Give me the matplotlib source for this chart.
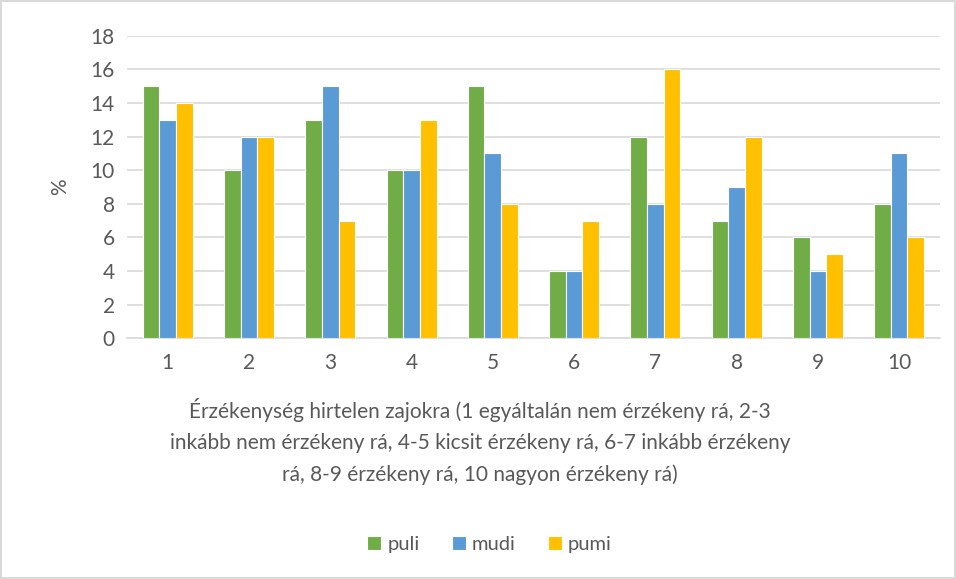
import matplotlib
matplotlib.use('Agg')
import matplotlib.pyplot as plt
import numpy as np

categories = ['1', '2', '3', '4', '5', '6', '7', '8', '9', '10']
puli = [15, 10, 13, 10, 15, 4, 12, 7, 6, 8]
mudi = [13, 12, 15, 10, 11, 4, 8, 9, 4, 11]
pumi = [14, 12, 7, 13, 8, 7, 16, 12, 5, 6]

colors = {'puli': '#70ad47', 'mudi': '#5b9bd5', 'pumi': '#ffc000'}
text_color = '#595959'

plt.rcParams['font.family'] = ['Lato', 'DejaVu Sans']

fig = plt.figure(figsize=(9.56, 5.79), dpi=100)
fig.patch.set_edgecolor('#d9d9d9')
fig.patch.set_linewidth(1.5)
ax = fig.add_axes([0.133, 0.416, 0.85, 0.522])

x = np.arange(len(categories))
w = 0.205
for i, (name, vals) in enumerate([('puli', puli), ('mudi', mudi), ('pumi', pumi)]):
    ax.bar(x + (i - 1) * w, vals, width=w, color=colors[name], edgecolor='white',
           linewidth=0.8, label=name, zorder=3)

ax.set_xlim(-0.5, len(categories) - 0.5)
ax.set_ylim(0, 18)
ax.set_yticks(range(0, 19, 2))
ax.set_xticks(x)
ax.set_xticklabels(categories)
ax.grid(axis='y', color='#d9d9d9', linewidth=1.2, zorder=0)
for s in ['top', 'right', 'left']:
    ax.spines[s].set_visible(False)
ax.spines['bottom'].set_color('#d9d9d9')
ax.spines['bottom'].set_linewidth(1.2)
ax.tick_params(axis='both', length=0, labelsize=15, colors=text_color, pad=9)
ax.tick_params(axis='x', pad=11)

fig.text(0.063, 0.677, '%', rotation=90, ha='center', va='center', fontsize=15, color=text_color)

fig.text(0.502, 0.237,
         'Érzékenység hirtelen zajokra (1 egyáltalán nem érzékeny rá, 2-3\n'
         'inkább nem érzékeny rá, 4-5 kicsit érzékeny rá, 6-7 inkább érzékeny\n'
         'rá, 8-9 érzékeny rá, 10 nagyon érzékeny rá)',
         ha='center', va='center', fontsize=15, color=text_color, linespacing=1.7)

handles, labels = ax.get_legend_handles_labels()
fig.legend(handles, labels, loc='center', bbox_to_anchor=(0.512, 0.059), ncol=3, frameon=False,
           fontsize=14.5, labelcolor=text_color, handlelength=0.7, handleheight=0.7,
           handletextpad=0.3, columnspacing=1.6)

fig.savefig('out.png', dpi=100, edgecolor=fig.get_edgecolor())
